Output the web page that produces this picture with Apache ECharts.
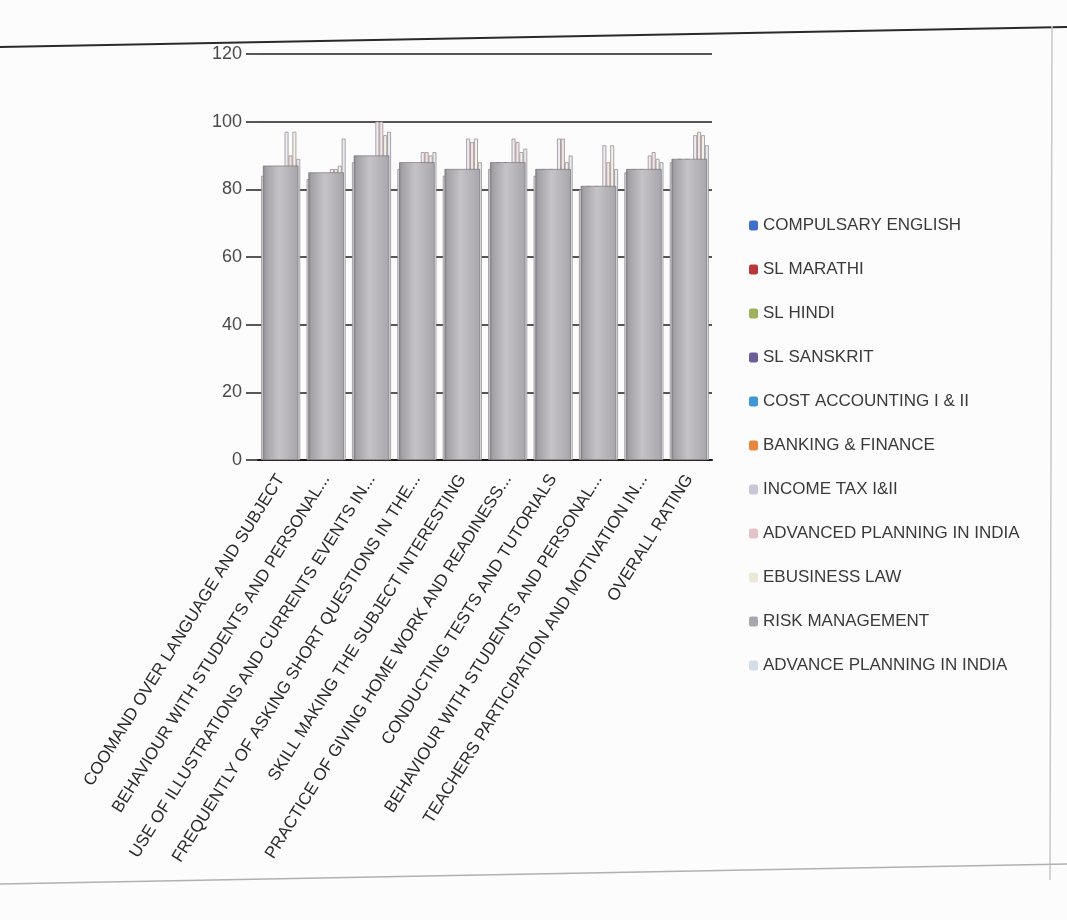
<!DOCTYPE html>
<html>
<head>
<meta charset="utf-8">
<script src="https://cdn.jsdelivr.net/npm/echarts@6/dist/echarts.min.js"></script>
<style>html,body{margin:0;padding:0;background:#fcfcfc;}#c{width:1067px;height:920px;}</style>
</head>
<body>
<div id="c"></div>
<script>
const categories = [
  "COOMAND OVER LANGUAGE AND SUBJECT",
  "BEHAVIOUR WITH STUDENTS AND PERSONAL...",
  "USE OF ILLUSTRATIONS AND CURRENTS EVENTS IN...",
  "FREQUENTLY OF ASKING SHORT QUESTIONS IN THE...",
  "SKILL MAKING THE SUBJECT INTERESTING",
  "PRACTICE OF GIVING HOME WORK AND READINESS...",
  "CONDUCTING TESTS AND TUTORIALS",
  "BEHAVIOUR WITH STUDENTS AND PERSONAL...",
  "TEACHERS PARTICIPATION AND MOTIVATION IN...",
  "OVERALL RATING"
];
const seriesNames = [
  "COMPULSARY ENGLISH", "SL MARATHI", "SL HINDI", "SL SANSKRIT",
  "COST ACCOUNTING I & II", "BANKING & FINANCE", "INCOME TAX I&II",
  "ADVANCED PLANNING IN INDIA", "EBUSINESS LAW", "RISK MANAGEMENT",
  "ADVANCE PLANNING IN INDIA"
];
const compulsaryEnglish   = [84, 83, 88, 86, 84, 86, 84, 80, 85, 88];
const slMarathi           = [85, 84, 89, 87, 85, 87, 85, 80, 85, 88];
const slHindi             = [86, 84, 89, 87, 85, 88, 86, 81, 86, 89];
const slSanskrit          = [85, 83, 88, 86, 84, 87, 85, 80, 85, 88];
const costAccounting      = [86, 84, 89, 87, 85, 88, 86, 81, 86, 89];
const bankingFinance      = [85, 84, 88, 87, 84, 87, 85, 80, 85, 88];
const incomeTax           = [97, 86, 100, 91, 95, 95, 95, 93, 90, 96];
const advancedPlanning    = [90, 86, 100, 91, 94, 94, 95, 88, 91, 97];
const ebusinessLaw        = [97, 87, 96, 90, 95, 91, 88, 93, 89, 96];
const riskManagement      = [87, 85, 90, 88, 86, 88, 86, 81, 86, 89];
const advancePlanningIndia= [89, 95, 97, 91, 88, 92, 90, 86, 88, 93];
const yTicks = [0, 20, 40, 60, 80, 100, 120];

const values = [compulsaryEnglish, slMarathi, slHindi, slSanskrit, costAccounting,
  bankingFinance, incomeTax, advancedPlanning, ebusinessLaw, riskManagement, advancePlanningIndia];
const colors = ['#3f6fc9', '#b8383a', '#9cb25a', '#6e5c99', '#3f97d6', '#e8873c',
  '#c9c6d8', '#e2c2c4', '#ece8d6', '#a9a7ae', '#d3dde9'];
const backFill = ['#d8d6de', '#dcd7d8', '#dad9d2', '#d6d4dc', '#d6dbe2', '#e2d8d0',
  '#efebf2', '#f4e4e4', '#f3f1e8', '#cfcdd2', '#e3ebf0'];
const FRONT = 9;

const series = values.map((v, i) => {
  if (i === FRONT) {
    return {
      name: seriesNames[i], type: 'bar', xAxisIndex: 0, yAxisIndex: 0, data: v,
      barWidth: '78%', z: 5,
      itemStyle: {
        color: new echarts.graphic.LinearGradient(0, 0, 1, 0, [
          {offset: 0, color: '#8a878c'}, {offset: 0.08, color: '#a4a1a6'},
          {offset: 0.45, color: '#c6c3c8'}, {offset: 1, color: '#a9a6ab'}
        ]),
        borderColor: '#6a676c', borderWidth: 0.6
      }
    };
  }
  return {
    name: seriesNames[i], type: 'bar', xAxisIndex: 1, yAxisIndex: 0, data: v,
    barGap: '0%', barCategoryGap: '14%', z: 2,
    itemStyle: {color: backFill[i], borderColor: '#9a8f92', borderWidth: 0.8}
  };
});

const chart = echarts.init(document.getElementById('c'));
chart.setOption({
  backgroundColor: '#fcfcfc',
  color: colors,
  animation: false,
  grid: {left: 258, right: 355, top: 54, bottom: 460, containLabel: false},
  legend: {
    orient: 'vertical', left: 744, top: 212, itemWidth: 9, itemHeight: 10, itemGap: 27,
    data: seriesNames.map((n, i) => ({name: n, itemStyle: {color: colors[i], borderWidth: 0}})),
    textStyle: {fontSize: 17, color: '#3a3a3a', fontFamily: 'Liberation Sans, sans-serif'}
  },
  xAxis: [
    {
      type: 'category', data: categories,
      axisLine: {lineStyle: {color: '#1a1a1a', width: 2}},
      axisTick: {show: false},
      axisLabel: {interval: 0, rotate: 58, fontSize: 17, color: '#2a2a2a', margin: 16,
        fontFamily: 'Liberation Sans, sans-serif'}
    },
    {type: 'category', data: categories, show: false}
  ],
  yAxis: {
    type: 'value', min: 0, max: 120, interval: 20,
    axisLine: {show: false},
    axisTick: {show: true, length: 12, lineStyle: {color: '#222', width: 1.5}},
    axisLabel: {fontSize: 18, color: '#4a4a4a', margin: 16, fontFamily: 'Liberation Sans, sans-serif',
      formatter: v => yTicks.includes(v) ? String(v) : ''},
    splitLine: {lineStyle: {color: '#1e1e1e', width: 1.5}}
  },
  series: series,
  graphic: [
    {type: 'polyline', shape: {points: [[0, 47], [1067, 27]]}, style: {stroke: '#2a2a2a', lineWidth: 2}},
    {type: 'polyline', shape: {points: [[1052, 26], [1050, 880]]}, style: {stroke: '#c8c8c8', lineWidth: 1.5}},
    {type: 'polyline', shape: {points: [[0, 884], [1067, 864]]}, style: {stroke: '#b0b0b0', lineWidth: 1.5}}
  ]
});
</script>
</body>
</html>
